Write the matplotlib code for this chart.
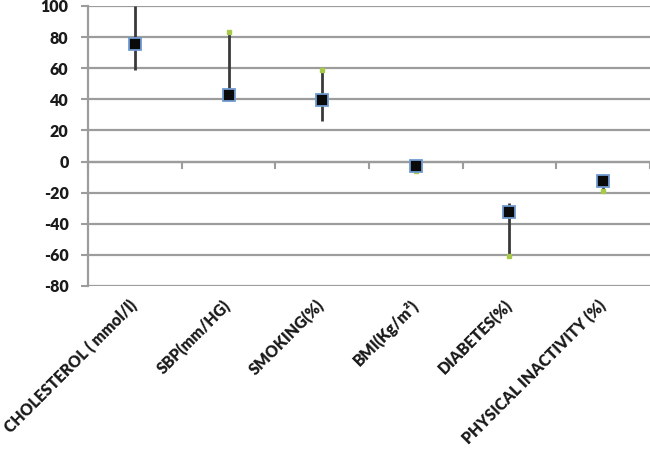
import matplotlib
matplotlib.use("Agg")
import matplotlib.pyplot as plt
import numpy as np

categories = ["CHOLESTEROL ( mmol/l)", "SBP(mm/HG)", "SMOKING(%)", "BMI(Kg/m²)",
              "DIABETES(%)", "PHYSICAL INACTIVITY (%)"]
mean_vals = [75.5, 42.8, 39.5, -2.6, -32.6, -12.5]
high_vals = [100, 83, 59, -2.6, -26.8, -8.0]
low_vals = [59, 42.8, 26, -5.8, -61, -18.7]
end_vals = [np.nan, 83, 59, -5.8, -61, -18.7]
yticks = [-80, -60, -40, -20, 0, 20, 40, 60, 80, 100]

plt.rcParams['font.family'] = ['Lato', 'DejaVu Sans']

fig = plt.figure(figsize=(6.5, 4.51), dpi=100)
ax = fig.add_axes([88/650, 1-286/451, 1-88/650, 280/451])

x = np.arange(1, len(categories)+1)
grid_c = '#9c9c9c'
for yv in yticks:
    ax.axhline(yv, color=grid_c, lw=1.6, zorder=0)

ax.vlines(x, low_vals, high_vals, color='#3a3a3a', lw=2.0, zorder=2)
ax.plot(x, end_vals, 's', ms=2.5, color='#a8c84a', mec='#a8c84a', ls='none', zorder=3)
ax.plot(x, mean_vals, 's', ms=8.5, color='#0a0a0a', mec='#6f9bd1', mew=1.3, ls='none', zorder=4)

ax.set_xlim(0.5, len(categories)+0.5)
ax.set_ylim(-80, 100)
ax.set_yticks(yticks)
ax.set_yticklabels([str(v) for v in yticks], fontweight='heavy', fontsize=11.5, color='#1a1a1a')
ax.tick_params(axis='y', direction='out', length=5, color=grid_c, width=1.5, pad=9)

ax.set_xticks(x)
ax.set_xticklabels(categories, rotation=45, ha='right', va='center', rotation_mode='anchor',
                   fontweight='heavy', fontsize=11.3, color='#1a1a1a')
ax.tick_params(axis='x', length=0, pad=12)

for s in ['top', 'right', 'bottom']:
    ax.spines[s].set_visible(False)
ax.spines['left'].set_color(grid_c)
ax.spines['left'].set_linewidth(1.6)

sec = ax.secondary_xaxis(80/180)
sec.set_xticks(np.arange(0.5, len(categories)+1, 1.0))
sec.set_xticklabels([])
sec.tick_params(direction='out', length=5, color=grid_c, width=1.5)
sec.spines['bottom'].set_color(grid_c)
sec.spines['bottom'].set_linewidth(1.6)

fig.savefig('out.png', dpi=100)
